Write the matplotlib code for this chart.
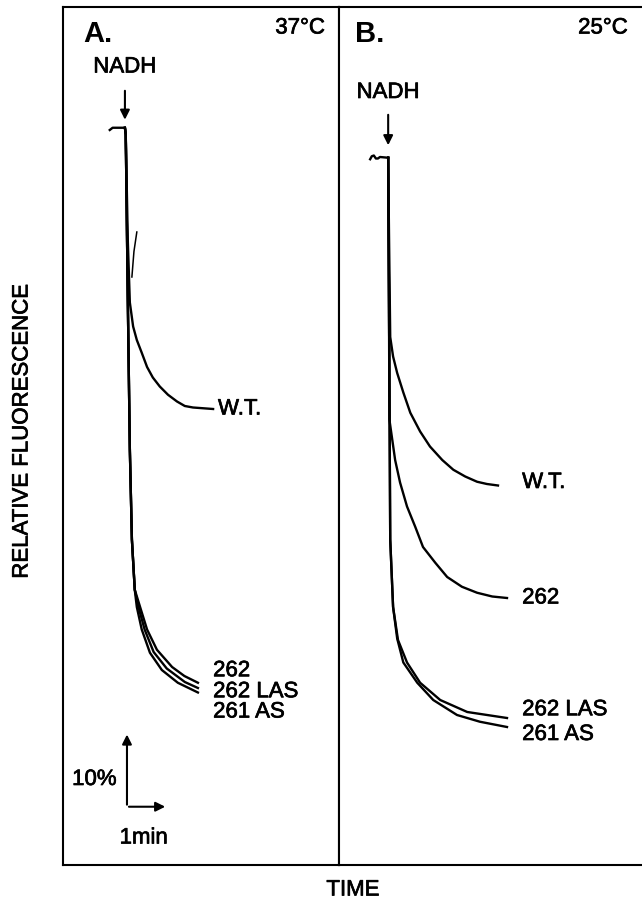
import matplotlib.pyplot as plt
import matplotlib.patheffects as pe

plt.rcParams['font.family'] = ['Liberation Sans', 'DejaVu Sans']

# time (min, 0 = NADH addition) and relative fluorescence (%)
# panel A, 37 C
a_wt_t = [-0.37, -0.3, 0.0, 0.02, 0.07, 0.12, 0.2, 0.29, 0.41, 0.54, 0.68, 0.85,
          1.05, 1.27, 1.46, 1.66, 2.15]
a_wt_f = [99.7, 100.0, 100.0, 99.1, 85.0, 76.7, 73.5, 71.7, 70.0, 68.1, 66.7, 65.5,
          64.4, 63.5, 62.9, 62.7, 62.5]
a_spike_t = [0.17, 0.22, 0.29]
a_spike_f = [80.1, 83.5, 86.1]
a_262_t = [0.0, 0.02, 0.07, 0.12, 0.17, 0.24, 0.37, 0.54, 0.78, 1.15, 1.45, 1.78]
a_262_f = [100.0, 99.1, 77.1, 57.1, 45.1, 38.4, 36.1, 33.1, 30.4, 28.1, 26.9, 26.0]
a_262las_t = [0.0, 0.02, 0.07, 0.12, 0.17, 0.24, 0.33, 0.48, 0.70, 1.02, 1.46, 1.78]
a_262las_f = [100.0, 99.1, 77.1, 57.1, 45.1, 38.4, 36.1, 33.1, 30.1, 27.9, 26.1, 25.3]
a_261as_t = [0.0, 0.02, 0.07, 0.12, 0.17, 0.24, 0.29, 0.41, 0.61, 0.90, 1.29, 1.78]
a_261as_f = [100.0, 99.1, 77.1, 57.1, 45.1, 38.4, 36.1, 33.1, 30.0, 27.7, 26.0, 24.7]

# panel B, 25 C
b_base_t = [-0.44, -0.4, -0.35, -0.3, -0.25, -0.2, 0.0]
b_base_f = [99.8, 100.2, 100.3, 99.9, 99.9, 100.1, 100.0]
b_wt_t = [0.0, 0.02, 0.05, 0.12, 0.22, 0.37, 0.54, 0.78, 1.02, 1.32, 1.59, 1.88,
          2.17, 2.41, 2.68]
b_wt_f = [100.0, 90.0, 76.1, 73.5, 71.3, 68.7, 66.0, 63.5, 61.5, 59.7, 58.4, 57.5,
          56.8, 56.5, 56.3]
b_262_t = [0.0, 0.02, 0.03, 0.1, 0.17, 0.29, 0.46, 0.66, 0.85, 1.15, 1.44, 1.80,
           2.17, 2.54, 2.9]
b_262_f = [100.0, 80.0, 65.1, 62.4, 59.7, 56.7, 53.5, 50.8, 48.1, 46.0, 44.1, 42.8,
           42.0, 41.5, 41.3]
b_262las_t = [0.0, 0.02, 0.05, 0.12, 0.24, 0.46, 0.78, 1.27, 1.93, 2.9]
b_262las_f = [100.0, 81.1, 49.1, 40.1, 35.7, 32.7, 30.0, 27.7, 26.1, 25.3]
b_261as_t = [0.0, 0.02, 0.05, 0.12, 0.22, 0.37, 0.71, 1.10, 1.68, 2.24, 2.9]
b_261as_f = [100.0, 81.1, 49.1, 40.1, 35.9, 32.7, 30.0, 27.7, 25.7, 24.8, 24.1]

a_labels = ["W.T.", "262", "262 LAS", "261 AS"]
a_label_f = [62.5, 27.6, 24.8, 22.1]
b_labels = ["W.T.", "262", "262 LAS", "261 AS"]
b_label_f = [56.7, 41.3, 26.4, 23.1]

W, H = 642, 905
fig = plt.figure(figsize=(W / 100, H / 100), dpi=100)


def frame(x0, x1, y0, y1):
    return [x0 / W, 1 - y1 / H, (x1 - x0) / W, (y1 - y0) / H]


axA = fig.add_axes(frame(63, 339, 7, 865))
axB = fig.add_axes(frame(339, 650, 7, 865))
axA.set_xlim(-1.51, 5.22)
axA.set_ylim(1.7, 116.1)
axB.set_xlim(-1.2, 6.39)
axB.set_ylim(5.7, 120.1)

for ax in (axA, axB):
    ax.set_xticks([])
    ax.set_yticks([])
    for s in ax.spines.values():
        s.set_linewidth(1.5)

lw = 1.7
axA.plot(a_wt_t, a_wt_f, color='black', lw=lw)
axA.plot(a_spike_t, a_spike_f, color='black', lw=1.1)
axA.plot(a_262_t, a_262_f, color='black', lw=lw)
axA.plot(a_262las_t, a_262las_f, color='black', lw=lw)
axA.plot(a_261as_t, a_261as_f, color='black', lw=lw)

axB.plot(b_base_t, b_base_f, color='black', lw=lw)
axB.plot(b_wt_t, b_wt_f, color='black', lw=lw)
axB.plot(b_262_t, b_262_f, color='black', lw=lw)
axB.plot(b_262las_t, b_262las_f, color='black', lw=lw)
axB.plot(b_261as_t, b_261as_f, color='black', lw=lw)

fs = 16
heavy = [pe.withStroke(linewidth=0.5, foreground='black')]
txt = dict(fontsize=fs, path_effects=heavy)
for lab, f, t in zip(a_labels, a_label_f, [2.27, 2.15, 2.15, 2.15]):
    axA.text(t, f, lab, va='center', ha='left', **txt)
for lab, f in zip(b_labels, b_label_f):
    axB.text(3.27, f, lab, va='center', ha='left', **txt)

# panel titles and temperatures
axA.text(-1.02, 112.5, "A.", fontsize=21, fontweight='bold', va='center', ha='left')
axA.text(4.88, 113.3, "37°C", va='center', ha='right', **txt)
axB.text(-0.80, 116.5, "B.", fontsize=21, fontweight='bold', va='center', ha='left')
axB.text(5.85, 117.3, "25°C", va='center', ha='right', **txt)

# NADH markers
arrow = dict(arrowstyle='-|>', color='black', lw=1.5, mutation_scale=14)
axA.text(0.0, 108.1, "NADH", va='center', ha='center', **txt)
axA.annotate("", xy=(0.0, 100.7), xytext=(0.0, 105.3), arrowprops=arrow)
axB.text(0.0, 108.7, "NADH", va='center', ha='center', **txt)
axB.annotate("", xy=(0.0, 101.3), xytext=(0.0, 106.1), arrowprops=arrow)

# scale bar: 10% and 1 min
sb_t, sb_f = 0.05, 9.47
axA.annotate("", xy=(sb_t, sb_f + 10), xytext=(sb_t, sb_f - 0.1), arrowprops=arrow)
axA.annotate("", xy=(sb_t + 1, sb_f), xytext=(sb_t - 0.02, sb_f), arrowprops=arrow)
axA.text(-0.2, 13.1, "10%", va='center', ha='right', **txt)
axA.text(0.46, 5.3, "1min", va='center', ha='center', **txt)

fig.text(22 / W, 1 - 431 / H, "RELATIVE FLUORESCENCE", rotation=90,
         va='center', ha='center', **txt)
fig.text(353 / W, 1 - 890 / H, "TIME", va='center', ha='center', **txt)

fig.savefig("out.png", dpi=100)
